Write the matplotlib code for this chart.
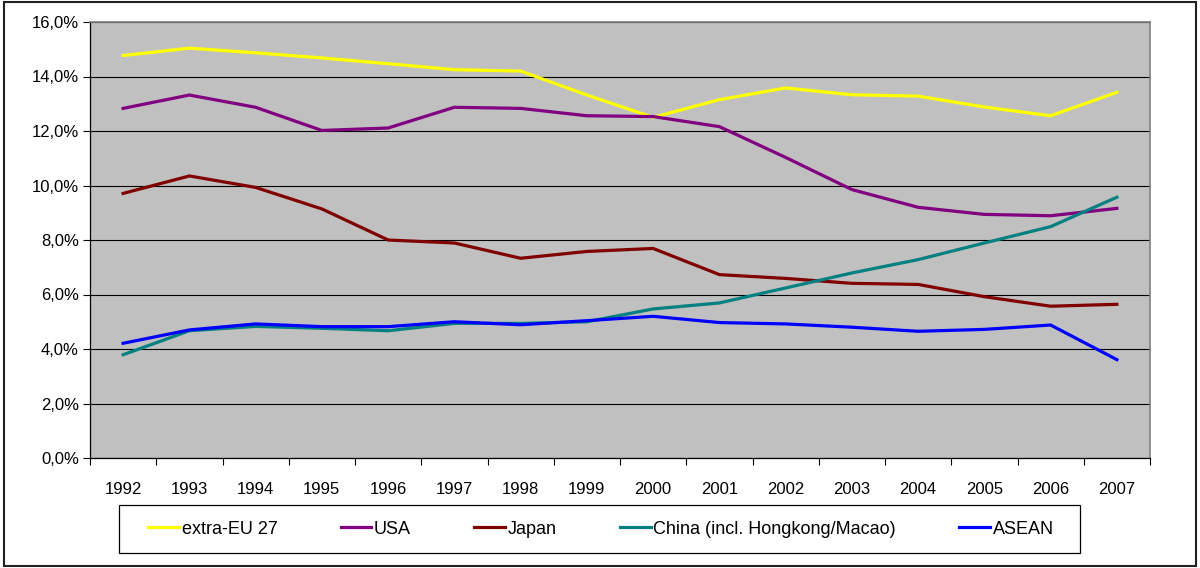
import matplotlib.pyplot as plt
from matplotlib.patches import Rectangle
from matplotlib.ticker import FuncFormatter, FixedLocator
import numpy as np

plt.rcParams['font.family'] = ['Liberation Sans', 'DejaVu Sans']

years = [str(y) for y in range(1992, 2008)]
extra_eu = [14.77, 15.04, 14.87, 14.68, 14.47, 14.25, 14.2, 13.32, 12.5,
            13.15, 13.58, 13.33, 13.28, 12.88, 12.56, 13.42]
usa = [12.83, 13.32, 12.87, 12.02, 12.11, 12.87, 12.83, 12.56, 12.53,
       12.16, 11.03, 9.85, 9.2, 8.94, 8.89, 9.16]
japan = [9.71, 10.35, 9.93, 9.14, 8.0, 7.89, 7.33, 7.58, 7.69,
         6.73, 6.59, 6.41, 6.37, 5.92, 5.57, 5.64]
china = [3.79, 4.67, 4.83, 4.76, 4.67, 4.94, 4.94, 5.0, 5.47,
         5.69, 6.24, 6.79, 7.28, 7.89, 8.49, 9.57]
asean = [4.21, 4.7, 4.92, 4.82, 4.82, 5.0, 4.89, 5.04, 5.2,
         4.97, 4.92, 4.8, 4.65, 4.72, 4.88, 3.61]

series = [("extra-EU 27", extra_eu, "#FFFF00"),
          ("USA", usa, "#800080"),
          ("Japan", japan, "#800000"),
          ("China (incl. Hongkong/Macao)", china, "#008080"),
          ("ASEAN", asean, "#0000FF")]

W, H = 1200, 568
fig = plt.figure(figsize=(W / 100, H / 100), dpi=100)
ax = fig.add_axes([90 / W, 1 - 458 / H, 1060 / W, 436 / H])
ax.set_facecolor("#C0C0C0")

x = np.arange(len(years))
handles = []
for name, vals, col in series:
    h, = ax.plot(x, vals, color=col, lw=2.3, label=name, solid_joinstyle='miter')
    handles.append(h)

ax.set_xlim(-0.5, len(years) - 0.5)
ax.set_ylim(0, 16)
ax.set_yticks(np.arange(0, 17, 2))
ax.yaxis.set_major_formatter(FuncFormatter(lambda v, p: f"{v:.1f}%".replace(".", ",")))
ax.grid(axis='y', color='black', lw=0.8)
ax.set_axisbelow(True)

ax.xaxis.set_major_locator(FixedLocator(np.arange(-0.5, len(years), 1)))
ax.xaxis.set_minor_locator(FixedLocator(x))
ax.set_xticklabels([], minor=False)
ax.set_xticklabels(years, minor=True)
ax.tick_params(axis='x', which='major', length=5, width=0.8, color='black')
ax.tick_params(axis='x', which='minor', length=0, pad=17, labelsize=12)
ax.tick_params(axis='y', length=5, width=0.8, labelsize=12, pad=3)

for s in ['left', 'bottom']:
    ax.spines[s].set_color('black')
    ax.spines[s].set_linewidth(0.9)
for s in ['top', 'right']:
    ax.spines[s].set_color('#808080')
    ax.spines[s].set_linewidth(1.2)

# legend box
fig.patches.append(Rectangle((119 / W, 1 - 553 / H), (1080 - 119) / W, 48 / H,
                             transform=fig.transFigure, facecolor='white',
                             edgecolor='black', lw=0.9))
fig.legend(handles=handles, loc='center', bbox_to_anchor=(601 / W, 1 - 529 / H),
           ncol=5, frameon=False, fontsize=13, handlelength=1.7,
           handletextpad=0.15, columnspacing=3.5)

# outer border
fig.patches.append(Rectangle((4 / W, 2 / H), 1192 / W, 564 / H,
                             transform=fig.transFigure, fill=False,
                             edgecolor='#202020', lw=1.5))

fig.savefig("out.png", dpi=100)
